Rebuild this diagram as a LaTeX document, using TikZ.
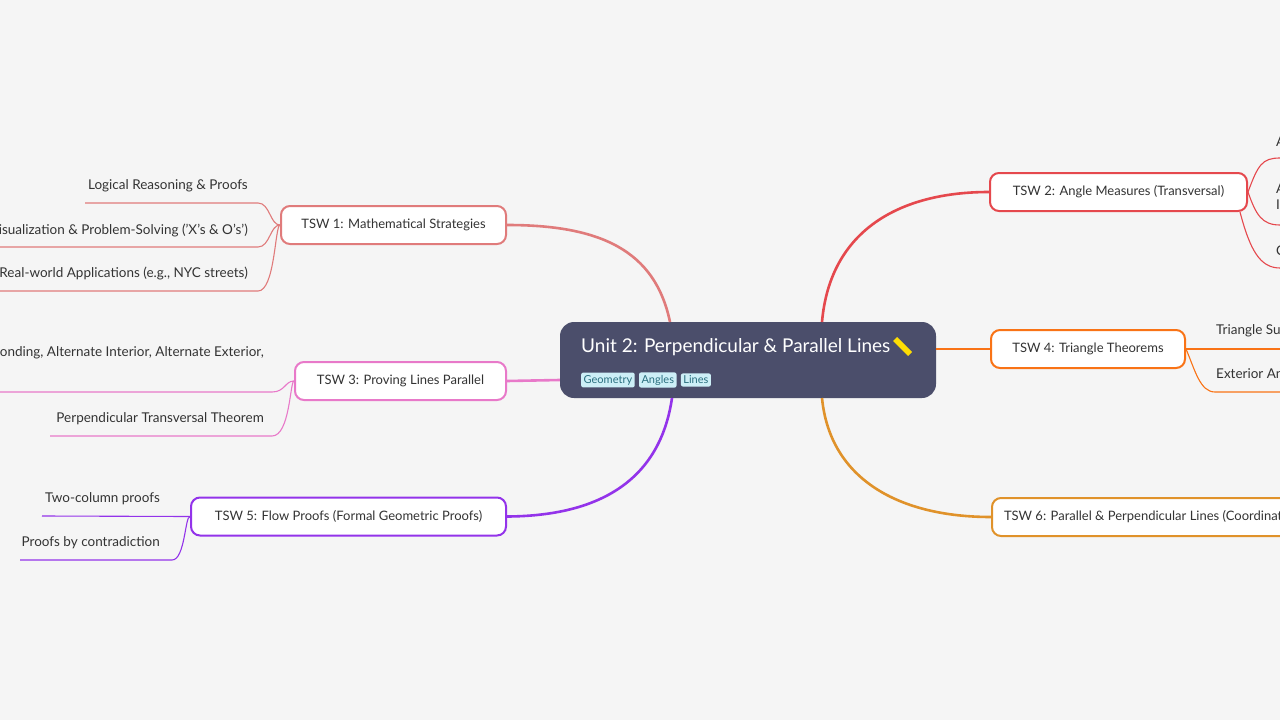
\documentclass[tikz,border=0pt]{standalone}
\usepackage{fontspec}
\setmainfont{Lato}
\definecolor{bgcol}{HTML}{F5F5F5}
\definecolor{rootcol}{HTML}{4B4E6B}
\definecolor{tagcol}{HTML}{CDEFF7}
\definecolor{tagtext}{HTML}{2A6F7F}
\definecolor{txtcol}{HTML}{333333}
\definecolor{cA}{HTML}{E07B7B}
\definecolor{cB}{HTML}{E5484D}
\definecolor{cC}{HTML}{E879C9}
\definecolor{cD}{HTML}{F97316}
\definecolor{cE}{HTML}{9333EA}
\definecolor{cF}{HTML}{E0922A}
\tikzset{
  topic/.style={draw=#1, line width=2pt, fill=white, rounded corners=9pt, minimum height=38pt, inner xsep=12pt, font=\fontsize{13}{15}\selectfont, text=txtcol},
  link/.style={draw=#1, line width=2.6pt},
  twig/.style={draw=#1, line width=1.1pt},
  leaf/.style={font=\fontsize{13.5}{16}\selectfont, text=txtcol, inner sep=0pt},
  tag/.style={fill=tagcol, rounded corners=2pt, inner sep=2.5pt, font=\fontsize{11}{13}\selectfont, text=tagtext}
}
\begin{document}
\begin{tikzpicture}[x=1pt,y=-1pt]
\fill[bgcol] (0,0) rectangle (1280,720);
\useasboundingbox (0,0) rectangle (1280,720);
\clip (0,0) rectangle (1280,720);
% root
\node[fill=rootcol, rounded corners=14pt, minimum width=376pt, minimum height=76pt] (root) at (748,360) {};
\node[anchor=west, text=white, font=\fontsize{19}{22}\selectfont, inner sep=0pt] (title) at (581,347) {Unit 2: Perpendicular \& Parallel Lines};
\fill[yellow!80!orange] (893,341) -- (897,337) -- (912,352) -- (908,356) -- cycle;
\node[tag, anchor=west] (g1) at (581,380) {Geometry};
\node[tag, anchor=west] (g2) at (g1.east) [xshift=4pt] {Angles};
\node[tag, anchor=west] (g3) at (g2.east) [xshift=4pt] {Lines};
% topics
\node[topic=cA, minimum width=225pt] (t1) at (393.5,225) {TSW 1: Mathematical Strategies};
\node[topic=cC, minimum width=211pt] (t3) at (400.5,381) {TSW 3: Proving Lines Parallel};
\node[topic=cE, minimum width=315pt] (t5) at (348.5,516.5) {TSW 5: Flow Proofs (Formal Geometric Proofs)};
\node[topic=cB, minimum width=257pt] (t2) at (1118.5,192) {TSW 2: Angle Measures (Transversal)};
\node[topic=cD, minimum width=194pt] (t4) at (1088,349) {TSW 4: Triangle Theorems};
\node[topic=cF, minimum width=330pt, anchor=west] (t6) at (991,517) {TSW 6: Parallel \& Perpendicular Lines (Coordinate Geometry)};
% links
\draw[link=cA] (670,322) .. controls (655,250) and (600,225) .. (t1.east);
\draw[link=cC] (root.west |- 0,380) -- (t3.east);
\draw[link=cE] (672,398) .. controls (660,480) and (600,516) .. (t5.east);
\draw[link=cB] (822,322) .. controls (830,230) and (900,192) .. (t2.west);
\draw[link=cD] (root.east |- t4) -- (t4.west);
\draw[link=cF] (822,398) .. controls (830,480) and (900,517) .. (t6.west);
% leaves left
\node[leaf, anchor=east] (l1) at (248,186) {Logical Reasoning \& Proofs};
\node[leaf, anchor=east] (l2) at (248,230) {Visualization \& Problem-Solving ('X's \& O's')};
\node[leaf, anchor=east] (l3) at (248,273) {Real-world Applications (e.g., NYC streets)};
\draw[twig=cA] (85,203) -- (258,203) .. controls (270,203) and (270,225) .. (t1.west);
\draw[twig=cA] (0,247) -- (258,247) .. controls (270,247) and (270,225) .. (t1.west);
\draw[twig=cA] (0,291) -- (258,291) .. controls (275,291) and (275,225) .. (t1.west);
\node[leaf, anchor=east] (l4) at (264,353) {Corresponding, Alternate Interior, Alternate Exterior,};
\node[leaf, anchor=east] (l5) at (264,419) {Perpendicular Transversal Theorem};
\draw[twig=cC] (0,392) -- (272,392) .. controls (285,392) and (285,381) .. (t3.west);
\draw[twig=cC] (50,436) -- (272,436) .. controls (290,436) and (290,381) .. (t3.west);
\node[leaf, anchor=east] (l6) at (160,499) {Two-column proofs};
\node[leaf, anchor=east] (l7) at (160,543) {Proofs by contradiction};
\draw[twig=cE] (42,516) -- (t5.west);
\draw[twig=cE] (20,560) -- (172,560) .. controls (185,560) and (185,516) .. (t5.west);
% leaves right
\node[leaf, anchor=west] (r1) at (1276,143) {Alternate Angles};
\node[leaf, anchor=west, align=left] (r2) at (1276,197) {Angle Pairs\\ In Transversals};
\node[leaf, anchor=west] (r3) at (1276,252) {Corresponding Angles};
\draw[twig=cB] (t2.east) .. controls (1258,165) and (1262,158) .. (1280,158);
\draw[twig=cB] (t2.east) .. controls (1256,215) and (1262,225) .. (1280,225);
\draw[twig=cB] (1240,212) .. controls (1250,250) and (1260,268) .. (1280,268);
\node[leaf, anchor=west] (r4) at (1216,331) {Triangle Sum Theorem};
\node[leaf, anchor=west] (r5) at (1216,375) {Exterior Angle Theorem};
\draw[twig=cD] (t4.east) -- (1280,349);
\draw[twig=cD] (t4.east) .. controls (1195,370) and (1200,392) .. (1215,392) -- (1280,392);
\end{tikzpicture}
\end{document}
